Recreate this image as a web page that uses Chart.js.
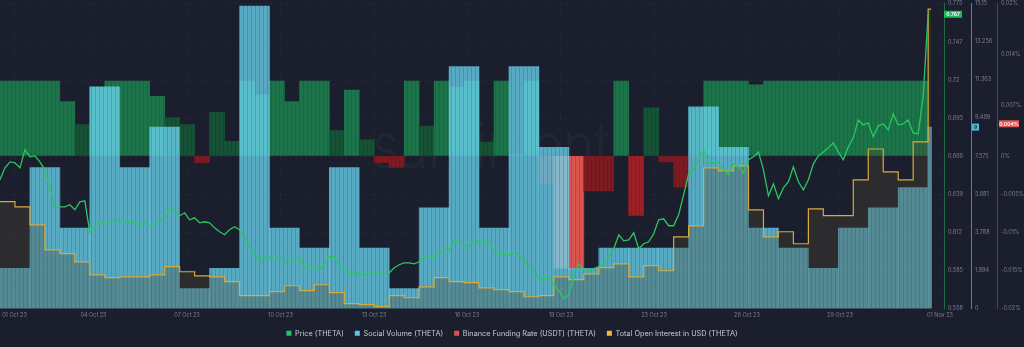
<!DOCTYPE html>
<html>
<head>
<meta charset="utf-8">
<script src="https://cdn.jsdelivr.net/npm/chart.js@4.4.0/dist/chart.umd.min.js"></script>
<style>
  html, body { margin: 0; padding: 0; background: #1b1e2d; }
  #chart { display: block; }
</style>
</head>
<body>
<canvas id="chart" width="1024" height="347"></canvas>
<script>
// THETA on Santiment: price, social volume, funding rate, open interest (01 Oct - 01 Nov 23)

// daily social volume from 01 Oct, the last value is the partial 01 Nov
const socialVolume = [2, 7, 4, 11, 7, 9, 1, 2, 15, 4, 3, 7, 3, 1, 5, 12, 4, 12, 8, 2, 3, 3, 3, 10, 8, 4, 3, 2, 4, 5, 6, 9];

// Binance funding rate (%), one bar per 12h
const fundingRate = [
  0.0098, 0.0098, 0.0098, 0.0098, 0.0071, 0.0041, 0.0090, 0.0098, 0.0098, 0.0098,
  0.0078, 0.0050, 0.0041, -0.0009, 0.0057, 0.0019, 0.0098, 0.0080, 0.0098, 0.0071,
  0.0098, 0.0098, 0.0033, 0.0086, 0.0021, -0.0009, -0.0015, 0.0098, 0.0039, 0.0098,
  0.0090, 0.0098, 0.0018, 0.0098, 0.0003, 0.0098, -0.0036, -0.0147, -0.0147, -0.0046,
  -0.0046, 0.0098, -0.0078, 0.0063, -0.0008, -0.0041, 0.0063, 0.0098, 0.0098, 0.0098,
  0.0093, 0.0098, 0.0098, 0.0098, 0.0098, 0.0098, 0.0098, 0.0098, 0.0098, 0.0098,
  0.0098, 0.0098
];
const fundingLatest = 0.0042;

// total open interest (USD, millions), one step per 12h, last one is 01 Nov
const openInterest = [
  8.20, 8.00, 7.29, 6.31, 6.16, 5.84, 5.33, 5.22, 5.25, 5.25,
  5.33, 5.65, 5.45, 5.29, 5.25, 5.06, 4.51, 4.51, 4.67, 4.90,
  4.71, 4.94, 4.63, 4.20, 4.16, 4.08, 4.51, 4.43, 4.86, 5.22,
  5.06, 5.02, 4.82, 4.75, 4.67, 4.47, 4.51, 5.25, 5.14, 5.37,
  5.61, 5.76, 5.25, 5.69, 5.49, 6.82, 7.25, 9.53, 9.41, 9.61,
  7.88, 6.82, 7.02, 6.55, 7.92, 7.65, 7.65, 9.06, 10.27, 9.37,
  9.06, 10.55, 15.76
];

// price (USD) every 4h from 01 Oct 00:00
const price = [
  0.6495, 0.6580, 0.6622, 0.6615, 0.6580, 0.6708, 0.6658, 0.6665, 0.6622, 0.6566,
  0.6438, 0.6296, 0.6303, 0.6303, 0.6318, 0.6282, 0.6339, 0.6346, 0.6119, 0.6162,
  0.6197, 0.6183, 0.6190, 0.6211, 0.6204, 0.6183, 0.6190, 0.6190, 0.6176, 0.6197,
  0.6169, 0.6183, 0.6204, 0.6225, 0.6296, 0.6275, 0.6240, 0.6261, 0.6211, 0.6225,
  0.6190, 0.6197, 0.6190, 0.6154, 0.6126, 0.6105, 0.6140, 0.6162, 0.6140, 0.6091,
  0.6020, 0.5963, 0.5920, 0.5942, 0.5949, 0.5935, 0.5949, 0.5913, 0.5920, 0.5928,
  0.5935, 0.5871, 0.5885, 0.5871, 0.5850, 0.5899, 0.5949, 0.5949, 0.5885, 0.5871,
  0.5835, 0.5842, 0.5828, 0.5821, 0.5842, 0.5842, 0.5835, 0.5828, 0.5835, 0.5871,
  0.5892, 0.5906, 0.5906, 0.5899, 0.5913, 0.5949, 0.5956, 0.5949, 0.5977, 0.5991,
  0.5991, 0.6069, 0.6055, 0.6034, 0.6020, 0.6076, 0.6048, 0.6048, 0.6055, 0.5984,
  0.5977, 0.5963, 0.5963, 0.5977, 0.5963, 0.5928, 0.5878, 0.5850, 0.5793, 0.5793,
  0.5793, 0.5750, 0.5708, 0.5651, 0.5679, 0.5821, 0.5899, 0.5857, 0.5850, 0.5864,
  0.5878, 0.5899, 0.5949, 0.6006, 0.6105, 0.6062, 0.6069, 0.6119, 0.6006, 0.6041,
  0.6055, 0.6112, 0.6211, 0.6218, 0.6169, 0.6169, 0.6247, 0.6388, 0.6537, 0.6566,
  0.6637, 0.6708, 0.6615, 0.6615, 0.6615, 0.6566, 0.6530, 0.6608, 0.6587, 0.6544,
  0.6637, 0.6658, 0.6693, 0.6566, 0.6381, 0.6466, 0.6360, 0.6438, 0.6481, 0.6587,
  0.6481, 0.6424, 0.6495, 0.6608, 0.6665, 0.6693, 0.6722, 0.6757, 0.6693, 0.6637,
  0.6729, 0.6793, 0.6920, 0.6885, 0.6899, 0.6800, 0.6878, 0.6892, 0.6849, 0.6963,
  0.6885, 0.6892, 0.6920, 0.6828, 0.6821, 0.7083, 0.7670
];

// axis ticks (x in days since 01 Oct 00:00)
const dateTicks = [0.484, 3.123, 6.246, 9.369, 12.492, 15.598, 18.737, 21.844, 24.95, 28.056, 31.396];
const dateLabels = ['01 Oct 23', '04 Oct 23', '07 Oct 23', '10 Oct 23', '13 Oct 23', '16 Oct 23',
  '19 Oct 23', '23 Oct 23', '26 Oct 23', '29 Oct 23', '01 Nov 23'];
const priceTicks = [0.558, 0.585, 0.612, 0.639, 0.666, 0.693, 0.72, 0.747, 0.775];
const socialTicks = [0, 1.894, 3.788, 5.681, 7.575, 9.469, 11.363, 13.256, 15.15];
const fundingTicks = [-0.02, -0.015, -0.01, -0.005, 0, 0.00667, 0.01333, 0.02];
const fundingTickLabels = ['-0.02%', '-0.015%', '-0.01%', '-0.005%', '0%', '0.007%', '0.014%', '0.02%'];

const FONT = 'Inter, "Noto Sans", sans-serif';
const GRID = 'rgba(255,255,255,0.045)';
const TICK = '#7c7f8d';
const SOCIAL = 'rgba(108,214,242,0.76)';
const legendColors = ['#27c25c', '#5cc8e0', '#e0524f', '#f0b93a'];

Chart.defaults.font.family = FONT;

// bars are made of hourly slices in the original, give them a faint vertical grain
const patterns = {};
function striped(color) {
  if (!patterns[color]) {
    const p = document.createElement('canvas');
    p.width = 4;
    p.height = 1;
    const g = p.getContext('2d');
    g.fillStyle = color;
    g.fillRect(0, 0, 4, 1);
    g.fillStyle = 'rgba(15,25,40,0.16)';
    g.fillRect(3, 0, 1, 1);
    patterns[color] = g.createPattern(p, 'repeat');
  }
  return patterns[color];
}

function fundingColor(v) {
  if (v >= 0.0066) return '#1d744a';
  if (v >= 0) return '#175237';
  if (v > -0.005) return '#7a1c21';
  if (v > -0.01) return '#9c2126';
  return '#d9534f';
}

const oiPoints = openInterest.map((v, k) => ({ x: k / 2, y: v }));
oiPoints.push({ x: 31.1, y: openInterest[openInterest.length - 1] });

// faint brand mark behind the data
const watermark = {
  id: 'watermark',
  beforeDatasetsDraw(chart) {
    const c = chart.ctx;
    c.save();
    c.font = '300 64px ' + FONT;
    c.fillStyle = 'rgba(255,255,255,0.03)';
    c.textBaseline = 'alphabetic';
    c.fillText('santiment', 372, 168, 238);
    c.restore();
  }
};

function drawTag(c, scale, value, text, bg, fg, w, dx) {
  const y = scale.getPixelForValue(value);
  const x = scale.left + dx;
  c.fillStyle = bg;
  c.fillRect(x, y - 3.5, w, 7);
  c.fillStyle = fg;
  c.font = '600 5px ' + FONT;
  c.textAlign = 'center';
  c.textBaseline = 'middle';
  c.fillText(text, x + w / 2, y + 0.3);
}

// last value labels on the right axes
const lastValues = {
  id: 'lastValues',
  afterDraw(chart) {
    const c = chart.ctx;
    const s = chart.scales;
    c.save();
    drawTag(c, s.yPrice, price[price.length - 1], price[price.length - 1].toFixed(3), '#23b65a', '#ffffff', 18, 0);
    drawTag(c, s.ySocial, socialVolume[socialVolume.length - 1], String(socialVolume[socialVolume.length - 1]), '#55bcd6', '#1b1e2d', 7, 1);
    drawTag(c, s.yFunding, fundingLatest, fundingLatest.toFixed(3) + '%', '#e05656', '#ffffff', 20, 2);
    c.restore();
  }
};

function rightAxis(min, max, ticks, labels, border, width, onChart) {
  return {
    position: 'right',
    min: min,
    max: max,
    grid: { display: true, drawOnChartArea: onChart, color: GRID, drawTicks: true, tickLength: 4, tickColor: 'transparent' },
    border: { display: true, color: border, width: 1, dash: [2, 3] },
    ticks: {
      color: TICK, padding: 0, font: { size: 5.5, lineHeight: 1.1 },
      callback: (v, i) => labels[i]
    },
    afterBuildTicks: s => { s.ticks = ticks.map(v => ({ value: v })); },
    afterFit: s => { s.width = width; }
  };
}

new Chart(document.getElementById('chart').getContext('2d'), {
  type: 'line',
  data: {
    datasets: [
      {
        type: 'line',
        label: 'Price (THETA)',
        data: price.map((v, i) => ({ x: i / 6, y: v })),
        yAxisID: 'yPrice',
        borderColor: '#29c85e',
        borderWidth: 1.3,
        pointRadius: 0,
        order: 0
      },
      {
        type: 'bar',
        label: 'Social Volume (THETA)',
        data: socialVolume.slice(0, 31).map((v, d) => ({ x: d + 0.5, y: v })),
        yAxisID: 'ySocial',
        backgroundColor: striped(SOCIAL),
        barThickness: 29.9,
        grouped: false,
        order: 2
      },
      {
        type: 'bar',
        label: 'Binance Funding Rate (USDT) (THETA)',
        data: fundingRate.map((v, k) => ({ x: k / 2 + 0.25, y: v })),
        yAxisID: 'yFunding',
        backgroundColor: c => striped(c.raw ? fundingColor(c.raw.y) : '#d9534f'),
        barThickness: 14.95,
        grouped: false,
        order: 3
      },
      {
        type: 'line',
        label: 'Total Open Interest in USD (THETA)',
        data: oiPoints,
        yAxisID: 'yOI',
        stepped: 'before',
        fill: 'start',
        backgroundColor: 'rgba(80,70,50,0.32)',
        borderColor: '#d9aa38',
        borderWidth: 1.2,
        pointRadius: 0,
        order: 1
      },
      {
        // partial day 01 Nov
        type: 'bar',
        label: '',
        data: [{ x: 31.05, y: socialVolume[socialVolume.length - 1] }],
        yAxisID: 'ySocial',
        backgroundColor: SOCIAL,
        barThickness: 3.5,
        grouped: false,
        order: 2
      }
    ]
  },
  options: {
    responsive: false,
    animation: false,
    events: [],
    layout: { padding: 0 },
    plugins: {
      tooltip: { enabled: false },
      legend: {
        position: 'bottom',
        labels: {
          color: '#c8cad2',
          font: { size: 7.3 },
          boxWidth: 5,
          boxHeight: 5,
          padding: 11,
          sort: (a, b) => a.datasetIndex - b.datasetIndex,
          generateLabels(chart) {
            return Chart.defaults.plugins.legend.labels.generateLabels(chart)
              .filter(it => it.text !== '')
              .map(it => Object.assign(it, {
                fillStyle: legendColors[it.datasetIndex],
                strokeStyle: legendColors[it.datasetIndex],
                lineWidth: 0
              }));
          }
        }
      }
    },
    scales: {
      x: {
        type: 'linear',
        min: 0,
        max: 31.53,
        offset: false,
        grid: { color: GRID, offset: false, drawTicks: true, tickLength: 3.4, tickColor: 'transparent' },
        border: { display: false, dash: [2, 3] },
        ticks: {
          autoSkip: false, maxRotation: 0, padding: 0, color: TICK,
          font: { size: 5.5 },
          callback: (v, i) => dateLabels[i]
        },
        afterBuildTicks: s => { s.ticks = dateTicks.map(v => ({ value: v })); }
      },
      yOI: { display: false, min: 4, max: 16 },
      yPrice: rightAxis(0.558, 0.775, priceTicks, priceTicks.map(String), '#1c6a3e', 27, true),
      ySocial: rightAxis(0, 15.15, socialTicks, socialTicks.map(String), '#3b8ea8', 26, false),
      yFunding: rightAxis(-0.02, 0.02, fundingTicks, fundingTickLabels, '#8c2b38', 27, false)
    }
  },
  plugins: [watermark, lastValues]
});
</script>
</body>
</html>
